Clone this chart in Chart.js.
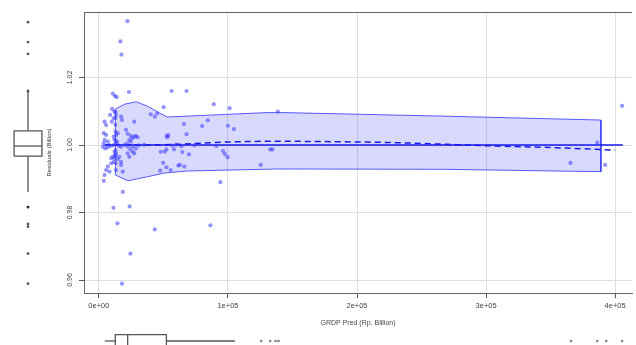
<!DOCTYPE html>
<html><head><meta charset="utf-8">
<script src="https://cdn.jsdelivr.net/npm/chart.js@4/dist/chart.umd.min.js"></script>
<style>
html,body{margin:0;padding:0;background:#fff;overflow:hidden;width:636px;height:345px;}
#wrap{position:relative;width:636px;height:345px;overflow:hidden;}
canvas{position:absolute;}
#main{left:0;top:0;}
#boxY{left:0;top:0;}
#boxX{left:0;top:321px;}
</style></head><body>
<div id="wrap">
<canvas id="main" width="636" height="345"></canvas>
<canvas id="boxY" width="56" height="345"></canvas>
<canvas id="boxX" width="636" height="40"></canvas>
</div>
<script>
// ---------- DATA ----------
const xTicks = [0, 100000, 200000, 300000, 400000];
const xTickLabels = ['0e+00', '1e+05', '2e+05', '3e+05', '4e+05'];
const yTicks = [0.96, 0.98, 1.00, 1.02];
const yTickLabels = ['0.96', '0.98', '1.00', '1.02'];
const xTitle = 'GRDP Pred (Rp. Billion)';
const yTitle = 'Residuals (Billion)';

const grdpPred = [22100,16700,17500,10800,12500,13800,23300,10200,56400,67900,50200,89000,101300,40200,43300,45200,65900,84400,80000,100000,104600,67900,52500,53800,53100,91000,47900,51000,52300,58200,64600,69800,96200,97700,99800,49800,52300,55600,47500,61500,62800,66200,125400,94100,43300,86400,132800,134600,138700,
8700,12100,13300,11500,10000,4400,5600,3800,5600,4400,6900,3800,3100,4900,6900,9500,11500,13300,14100,12100,11500,13300,14600,17200,17900,27400,21000,22300,24800,26200,27400,28700,30000,23600,24800,21800,19800,17200,22300,24400,26200,27400,28700,26200,12100,13300,10800,9500,12100,14600,11500,13300,9500,6900,5600,8200,4400,3800,13300,18500,17200,18500,17200,15900,12500,23600,22300,
11300,23800,14400,24400,17900,405400,365400,392300,386200,12800,12800,12800,12800,12800,12800,12800,57000,64000,74000,60000,8000,15500,35000,31000];
const residual = [1.0367,1.0307,1.0268,1.0152,1.0145,1.0142,1.0157,1.0107,1.0160,1.0160,1.0112,1.0121,1.0109,1.0091,1.0084,1.0094,1.0062,1.0073,1.0056,1.0057,1.0047,1.0032,1.0027,1.0029,1.0023,0.9997,0.9980,0.9980,0.9987,0.9987,0.9979,0.9972,0.9982,0.9973,0.9964,0.9947,0.9934,0.9926,0.9924,0.9939,0.9941,0.9936,0.9941,0.9890,0.9750,0.9762,0.9987,0.9987,1.0099,
1.0089,1.0099,1.0089,1.0079,1.0069,1.0069,1.0059,1.0035,1.0030,1.0015,1.0010,1.0005,0.9995,0.9990,0.9993,0.9997,1.0000,1.0005,1.0010,1.0017,1.0025,1.0030,1.0035,1.0084,1.0074,1.0069,1.0045,1.0033,1.0027,1.0020,1.0025,1.0027,1.0023,1.0015,1.0010,1.0005,1.0000,0.9995,0.9995,0.9987,0.9980,0.9975,0.9990,0.9995,0.9980,0.9975,0.9965,0.9961,0.9961,0.9958,0.9950,0.9946,0.9946,0.9936,0.9926,0.9921,0.9911,0.9894,0.9926,0.9921,0.9950,0.9861,0.9941,0.9965,0.9970,0.9965,0.9975,
0.9814,0.9818,0.9768,0.9678,0.9589,1.0116,0.9947,0.9941,1.0007,1.0098,1.0080,1.0060,1.0040,1.0012,0.9985,0.9968,0.9998,0.9996,0.9999,1.0001,1.0000,0.9998,1.0001,0.9999];

// confidence band
const bandUpperX = [12800, 20000, 29000, 37700, 46900, 53100, 130000, 143000, 262000, 389000];
const bandUpperY = [1.0107, 1.0121, 1.0128, 1.0115, 1.0095, 1.0083, 1.0096, 1.0096, 1.0086, 1.0074];
const bandLowerX = [12800, 22500, 37700, 50800, 68500, 139000, 267700, 353000, 389000];
const bandLowerY = [0.9911, 0.9894, 0.9906, 0.9917, 0.9923, 0.9929, 0.9928, 0.9923, 0.9921];

// reference line and smoother
const refLineX = [4600, 406000];
const refLineY = [1.0, 1.0];
const smoothX = [4600, 15000, 30000, 60000, 100000, 140000, 200000, 230000, 270000, 308000, 354000, 400000];
const smoothY = [1.0000, 1.0001, 1.0000, 1.0002, 1.0009, 1.0011, 1.0009, 1.0007, 1.0002, 0.9997, 0.9992, 0.9985];

// marginal boxplot of residuals: [lowerWhisker, q1, median, q3, upperWhisker]
const residBox = [0.9861, 0.9967, 0.9997, 1.0042, 1.0160];
const residOutliers = [1.0364, 1.0305, 1.0270, 1.0160, 0.9816, 0.9816, 0.9766, 0.9758, 0.9678, 0.9589];
// marginal boxplot of GRDP Pred
const predBox = [4600, 12700, 22300, 52300, 105400];
const predOutliers = [125800, 132700, 136900, 139200, 365900, 386200, 393100, 405400];

// ---------- SCALE RANGES ----------
const X_MIN = -11538, X_MAX = 413077;
const Y_MIN = 0.95615, Y_MAX = 1.03941;

const zip = (xs, ys) => xs.map((x, i) => ({x, y: ys[i]}));
const FONT = 'Liberation Sans, Arial, sans-serif';

const framePlugin = {
  id: 'frame',
  afterDraw(chart) {
    const {ctx, chartArea: a} = chart;
    ctx.save();
    ctx.strokeStyle = '#666';
    ctx.lineWidth = 1;
    ctx.beginPath();
    ctx.moveTo(a.left + 0.5, a.bottom);
    ctx.lineTo(a.left + 0.5, a.top + 0.5);
    ctx.lineTo(a.right, a.top + 0.5);
    ctx.stroke();
    ctx.restore();
  }
};

const outline = zip(bandUpperX, bandUpperY)
  .concat(zip(bandLowerX, bandLowerY).reverse());
outline.push({x: bandUpperX[0], y: bandUpperY[0]});

const common = {responsive: false, animation: false, events: [],
  plugins: {legend: {display: false}, tooltip: {enabled: false}}};

new Chart(document.getElementById('main'), {
  type: 'line',
  data: {
    datasets: [
      {data: zip(grdpPred, residual), showLine: false, pointRadius: 2.1, pointBorderWidth: 0,
       pointBackgroundColor: 'rgba(60,60,255,0.55)'},
      {data: zip(refLineX, refLineY), borderColor: 'rgb(25,25,235)', borderWidth: 1.4, pointRadius: 0},
      {data: zip(smoothX, smoothY), borderColor: 'rgb(25,25,235)', borderWidth: 1.5, borderDash: [6, 4],
       pointRadius: 0, cubicInterpolationMode: 'monotone'},
      {data: outline, borderColor: 'rgba(40,40,255,0.75)', borderWidth: 1, pointRadius: 0, fill: false},
      {data: zip(bandUpperX, bandUpperY), borderWidth: 0, pointRadius: 0, fill: '+1',
       backgroundColor: 'rgba(0,0,255,0.15)'},
      {data: zip(bandLowerX, bandLowerY), borderWidth: 0, pointRadius: 0, fill: false}
    ]
  },
  options: Object.assign({}, common, {
    layout: {padding: {left: 0, right: 0, top: 12, bottom: 0}},
    scales: {
      x: {type: 'linear', min: X_MIN, max: X_MAX,
        afterBuildTicks: s => { s.ticks = xTicks.map(v => ({value: v})); },
        afterFit: s => { s.height = 52; },
        grid: {color: '#dedede', lineWidth: 1, tickLength: 5, tickColor: '#555'},
        border: {display: true, color: '#666', width: 1},
        ticks: {autoSkip: false, maxRotation: 0, padding: 3, color: '#444',
          font: {family: FONT, size: 7.5},
          callback: v => xTickLabels[xTicks.indexOf(v)]},
        title: {display: true, text: xTitle, color: '#444', font: {family: FONT, size: 7},
          padding: {top: 0, bottom: 18}}
      },
      y: {type: 'linear', min: Y_MIN, max: Y_MAX,
        afterBuildTicks: s => { s.ticks = yTicks.map(v => ({value: v})); },
        afterFit: s => { s.width = 84; },
        grid: {color: '#dedede', lineWidth: 1, tickLength: 5, tickColor: '#555'},
        border: {display: true, color: '#666', width: 1},
        ticks: {autoSkip: false, minRotation: 90, maxRotation: 90, crossAlign: 'center', padding: 2.5,
          color: '#444', font: {family: FONT, size: 7},
          callback: v => yTickLabels[yTicks.findIndex(t => Math.abs(t - v) < 1e-9)]},
        title: {display: true, text: yTitle, color: '#333', font: {family: FONT, size: 6},
          padding: {top: 46, bottom: 0}}
      }
    }
  }),
  plugins: [framePlugin]
});

// vertical marginal boxplot (residuals)
const BW = 0.58;
const rb = residBox;
new Chart(document.getElementById('boxY'), {
  type: 'line',
  data: {datasets: [
    {data: residOutliers.map(v => ({x: 0, y: v})), showLine: false, pointRadius: 1.4, pointBorderWidth: 0,
     pointBackgroundColor: 'rgba(20,20,20,0.7)'},
    {data: [{x: -BW, y: rb[1]}, {x: BW, y: rb[1]}, {x: BW, y: rb[3]}, {x: -BW, y: rb[3]}, {x: -BW, y: rb[1]}],
     borderColor: '#555', borderWidth: 1.3, pointRadius: 0, fill: false},
    {data: [{x: -BW, y: rb[2]}, {x: BW, y: rb[2]}], borderColor: '#555', borderWidth: 1.3, pointRadius: 0},
    {data: [{x: 0, y: rb[3]}, {x: 0, y: rb[4]}], borderColor: '#555', borderWidth: 1.3, pointRadius: 0},
    {data: [{x: 0, y: rb[1]}, {x: 0, y: rb[0]}], borderColor: '#555', borderWidth: 1.3, pointRadius: 0}
  ]},
  options: Object.assign({}, common, {
    layout: {padding: {left: 0, right: 0, top: 12, bottom: 52}},
    scales: {
      x: {type: 'linear', min: -1, max: 1, display: false},
      y: {type: 'linear', min: Y_MIN, max: Y_MAX, display: false}
    }
  })
});

// horizontal marginal boxplot (GRDP Pred)
const BH = 0.4;
const pb = predBox;
new Chart(document.getElementById('boxX'), {
  type: 'line',
  data: {datasets: [
    {data: predOutliers.map(v => ({x: v, y: 0})), showLine: false, pointRadius: 1.3, pointBorderWidth: 0,
     pointBackgroundColor: 'rgba(40,40,40,0.6)'},
    {data: [{x: pb[1], y: -BH}, {x: pb[1], y: BH}, {x: pb[3], y: BH}, {x: pb[3], y: -BH}, {x: pb[1], y: -BH}],
     borderColor: '#555', borderWidth: 1.3, pointRadius: 0, fill: false},
    {data: [{x: pb[2], y: -BH}, {x: pb[2], y: BH}], borderColor: '#555', borderWidth: 1.3, pointRadius: 0},
    {data: [{x: pb[0], y: 0}, {x: pb[1], y: 0}], borderColor: '#555', borderWidth: 1.3, pointRadius: 0},
    {data: [{x: pb[3], y: 0}, {x: pb[4], y: 0}], borderColor: '#555', borderWidth: 1.3, pointRadius: 0}
  ]},
  options: Object.assign({}, common, {
    layout: {padding: {left: 84, right: 0, top: 0, bottom: 0}},
    scales: {
      x: {type: 'linear', min: X_MIN, max: X_MAX, display: false},
      y: {type: 'linear', min: -1, max: 1, display: false}
    }
  })
});
</script>
</body></html>
